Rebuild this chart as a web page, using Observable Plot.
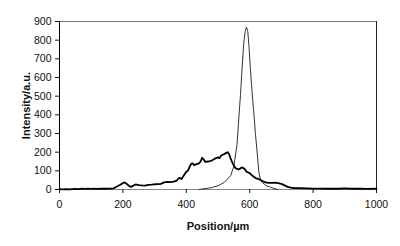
<!DOCTYPE html>
<html><head><meta charset="utf-8">
<script src="https://cdn.jsdelivr.net/npm/d3@7"></script>
<script src="https://cdn.jsdelivr.net/npm/@observablehq/plot@0.6"></script>
<style>body{margin:0;background:#fff}</style>
</head><body><div id="chart"></div>
<script>
const broadPos = [0,10,20,30,40,50,60,70,80,90,100,110,120,130,140,150,160,170,175,180,190,200,205,210,220,225,230,240,250,260,270,280,290,300,310,320,330,340,350,360,370,375,380,385,390,400,405,410,415,420,425,430,440,445,450,455,460,470,480,490,500,505,510,520,525,530,535,540,545,550,555,560,565,570,575,580,585,590,600,610,615,620,630,640,650,660,670,680,690,700,710,720,730,740,760,780,800,820,850,880,900,920,950,970,1000];
const broadVal = [2,1,2,1,2,3,2,4,3,5,3,4,3,4,5,4,5,6,10,15,24,34,38,33,19,14,18,27,24,22,21,25,26,28,29,30,38,41,40,42,48,58,62,56,70,95,100,120,137,140,130,135,140,150,170,160,148,150,155,165,172,168,182,190,195,200,190,165,145,128,115,110,108,112,118,115,108,95,88,72,66,60,55,45,38,35,36,37,34,30,22,14,10,8,7,6,5,5,4,4,6,4,5,3,4];
const sharpPos = [440,480,500,520,540,550,560,566,571,576,581,586,590,594,598,602,608,614,618,624,629,634,640,650,666,680,690];
const sharpVal = [0,10,20,38,75,125,240,390,510,650,780,850,870,845,760,650,510,390,300,190,90,55,38,22,12,4,0];
const xTicks = [0,200,400,600,800,1000];
const yTicks = [0,100,200,300,400,500,600,700,800,900];

const broad = broadPos.map((p,i)=>({x:p,y:broadVal[i]}));
const sharp = sharpPos.map((p,i)=>({x:p,y:sharpVal[i]}));

const chart = Plot.plot({
  width: 400, height: 246,
  marginLeft: 59, marginRight: 24, marginTop: 21, marginBottom: 57,
  style: {fontFamily: "'Liberation Sans', Arial, sans-serif", fontSize: "10px", color: "#111", background: "#fff"},
  x: {domain: [0,1000]},
  y: {domain: [0,900]},
  marks: [
    Plot.ruleY([900], {stroke: "#777", strokeWidth: 1.2}),
    Plot.ruleX([1000], {stroke: "#222", strokeWidth: 1}),
    Plot.ruleY([0], {stroke: "#888", strokeWidth: 1.2}),
    Plot.line(sharp, {x: "x", y: "y", stroke: "#333", strokeWidth: 1}),
    Plot.line(broad, {x: "x", y: "y", stroke: "#000", strokeWidth: 1.8}),
    Plot.ruleX([0], {stroke: "#000", strokeWidth: 1}),
    Plot.axisY({ticks: yTicks, tickFormat: d => String(d), tickSize: 4, tickPadding: 4, fontSize: 10.5, label: "Intensity/a.u.", labelAnchor: "center", labelArrow: "none", labelOffset: 37}),
    Plot.axisX({ticks: xTicks, tickFormat: d => String(d), tickSize: 4, tickPadding: 7, fontSize: 10.5, label: "Position/µm", labelAnchor: "center", labelArrow: "none", labelOffset: 40})
  ]
});
chart.querySelectorAll("g[aria-label='y-axis label'] text, g[aria-label='x-axis label'] text").forEach(t=>{t.style.fontWeight="bold";t.style.fontSize="11px";});
document.getElementById("chart").appendChild(chart);
</script></body></html>
